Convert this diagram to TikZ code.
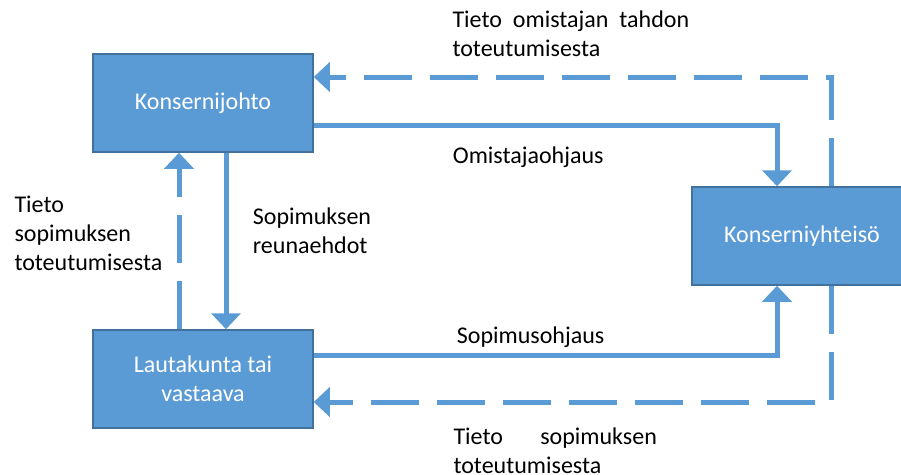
\documentclass[tikz,border=0pt]{standalone}
\usepackage{fontspec}
\setmainfont{Carlito}
\usetikzlibrary{arrows.meta}
\definecolor{kblue}{HTML}{5B9BD5}
\definecolor{kedge}{HTML}{41719C}
\tikzset{
	laatikko/.style={draw=kedge, line width=1.5pt, fill=kblue, text=white, minimum width=220pt, minimum height=98pt, inner sep=0pt, align=center},
	ohjaus/.style={draw=kblue, line width=5pt, -{Triangle[width=29pt,length=16pt]}},
	tieto/.style={ohjaus, dash pattern=on 48pt off 18pt},
	teksti/.style={inner sep=0pt, anchor=base west, align=left}
}

\begin{document}
\begin{tikzpicture}[x=1pt,y=-1pt,font=\fontsize{24}{29}\selectfont]
	%%%%% START %%%%%
	\useasboundingbox (0,0) rectangle (901,474);
	
	\node[laatikko] (kj) at (203,103) {Konsernijohto};
	\node[laatikko] (ky) at (802,236) {Konserniyhteisö};
	\node[laatikko] (lk) at (203,379) {Lautakunta tai\\vastaava};
	
	\coordinate (omis) at (777,125);
	\coordinate (tomis) at (831,77);
	\coordinate (sopo) at (777,355);
	\coordinate (tsop) at (831,402);
	
	\draw[ohjaus] (kj.east |- omis) -- (omis) -- (ky.north -| omis);
	\draw[tieto] (ky.north -| tomis) -- (tomis) -- (kj.east |- tomis);
	\draw[ohjaus] ([xshift=23pt]kj.south) -- ([xshift=23pt]lk.north);
	\draw[tieto] ([xshift=-24pt]lk.north) -- ([xshift=-24pt]kj.south);
	\draw[ohjaus] (lk.east |- sopo) -- (sopo) -- (ky.south -| sopo);
	\draw[tieto] (ky.south -| tsop) -- (tsop) -- (lk.east |- tsop);
	
	% monirivisen solmun base = viimeinen rivi
	\node[teksti, text width=236.7pt] (tomisteksti) at (452.3,27) {Tieto\hfill omistajan\hfill tahdon\\toteutumisesta};
	\node[teksti] (omisteksti) at (452.7,163) {Omistajaohjaus};
	\node[teksti] (reunateksti) at (252.7,253.5) {Sopimuksen\\reunaehdot};
	\node[teksti] (tsopvasen) at (14.3,270) {Tieto\\sopimuksen\\toteutumisesta};
	\node[teksti] (sopoteksti) at (456.7,343.3) {Sopimusohjaus};
	\node[teksti, text width=203.4pt] (tsopala) at (453.3,444.3) {Tieto\hfill sopimuksen\\toteutumisesta};
	%%%%% END %%%%%
\end{tikzpicture}
\end{document}
